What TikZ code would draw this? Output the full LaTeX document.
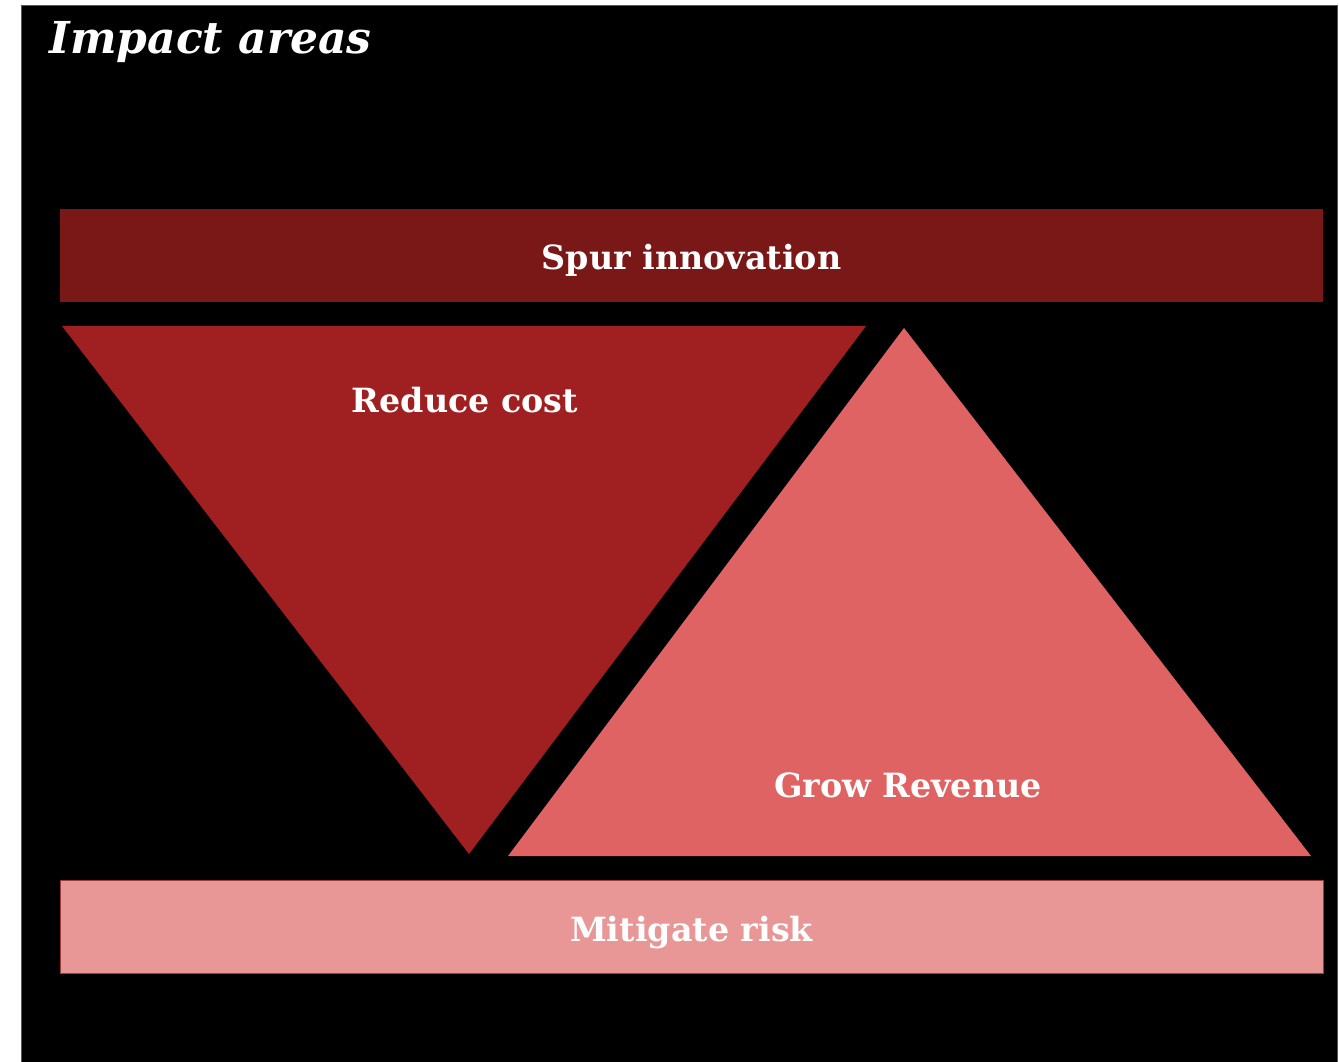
\documentclass[tikz,border=0pt]{standalone}
\usepackage{fontspec}
\setmainfont{DejaVu Serif}
\usepackage{tikz}
\usetikzlibrary{positioning}
\definecolor{spurred}{HTML}{7A1818}
\definecolor{costred}{HTML}{A01F20}
\definecolor{growred}{HTML}{E06363}
\definecolor{riskred}{HTML}{E89696}
\definecolor{edgered}{HTML}{9E3A3A}
\tikzstyle{bar} = [rectangle, minimum width=947.25pt, minimum height=69.75pt, inner sep=0pt, text height=22pt, text depth=1pt, text=white, font=\bfseries\fontsize{25}{30}\selectfont]
\tikzstyle{label} = [text=white, font=\bfseries\fontsize{25}{30}\selectfont]

\begin{document}
\begin{tikzpicture}[x=0.75pt, y=-0.75pt]
    \useasboundingbox (0,0) rectangle (1339,1062);
    \fill[white] (0,0) rectangle (1339,1062);
    \filldraw[fill=black, draw=edgered, thin] (21,5) rectangle (1337,1070);
    \node[anchor=base west, text=white, font=\bfseries\itshape\fontsize{33}{38}\selectfont] (title) at (45,54) {Impact areas};
    \node[bar, fill=spurred] (spur) at (691.5,255.5) {Spur innovation};
    \fill[costred] (62,326) -- (866,326) -- (469,854) -- cycle;
    \node[label] (reduce) at (465,400) {Reduce cost};
    \fill[growred] (904,328) -- (1311,856) -- (508,856) -- cycle;
    \node[label] (grow) at (908,785) {Grow Revenue};
    \node[bar, fill=riskred, draw=edgered, thin] (risk) at (691.5,927) {Mitigate risk};
  \end{tikzpicture}
\end{document}
